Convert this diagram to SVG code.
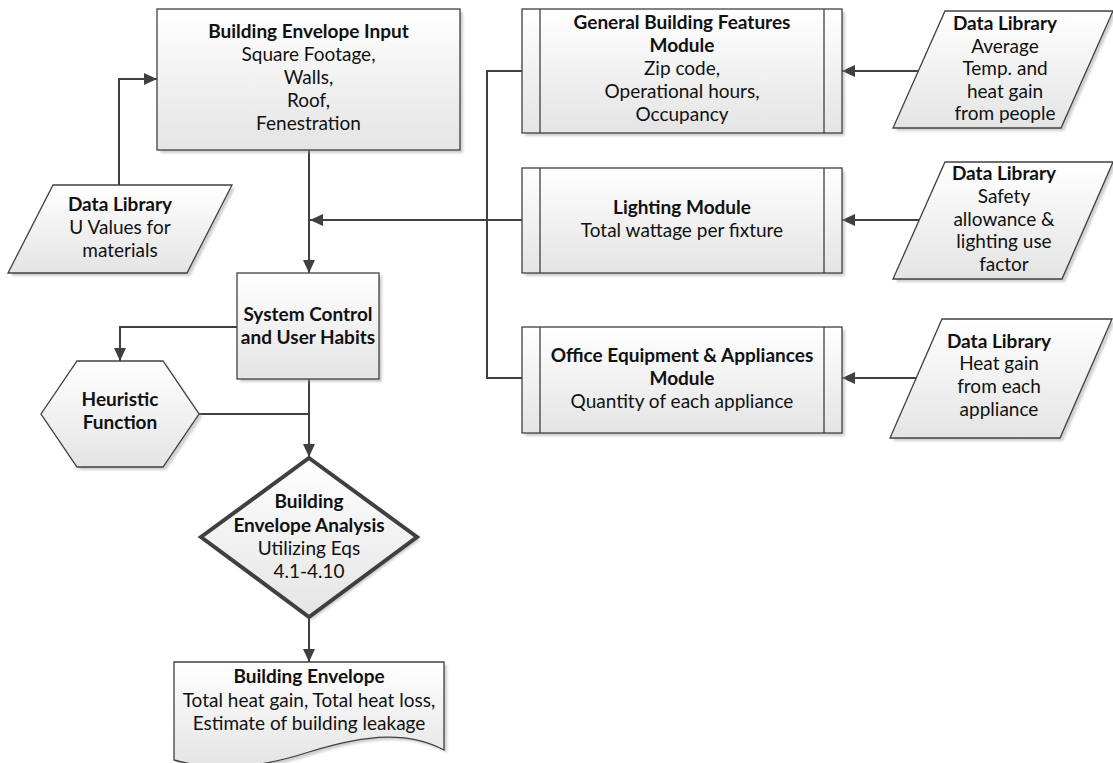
<svg xmlns="http://www.w3.org/2000/svg" width="1113" height="763" viewBox="0 0 1113 763">
<defs>
<linearGradient id="g" x1="0" y1="0" x2="0" y2="1">
<stop offset="0" stop-color="#ffffff"/>
<stop offset="1" stop-color="#e4e4e4"/>
</linearGradient>
<filter id="sh" x="-10%" y="-10%" width="130%" height="130%">
<feGaussianBlur stdDeviation="1.2"/>
</filter>
<marker id="arr" markerUnits="userSpaceOnUse" markerWidth="13" markerHeight="13" viewBox="0 0 13 13" refX="13" refY="6.5" orient="auto">
<path d="M0,0.5 L13,6.5 L0,12.5 z" fill="#404040"/>
</marker>
</defs>
<style>
.sh{fill:#a0a0a0;opacity:0.5;filter:url(#sh)}
.box{fill:url(#g);stroke:#404040;stroke-width:1.3}
.thick{fill:url(#g);stroke:#404040;stroke-width:4;stroke-linejoin:miter}
.div{stroke:#404040;stroke-width:1.3;fill:none}
.con{fill:none;stroke:#404040;stroke-width:2}
text{font-family:Lato,"Liberation Sans",sans-serif;font-size:19px;fill:#111;text-anchor:middle}
.b{font-weight:bold}
</style>

<g id="connectors">
<path class="con" d="M119,185 V79 H157" marker-end="url(#arr)"/>
<path class="con" d="M309,150 V273" marker-end="url(#arr)"/>
<path class="con" d="M522,220 H310" marker-end="url(#arr)"/>
<path class="con" d="M522,71 H487 V378 H522"/>
<path class="con" d="M237,327 H120 V361" marker-end="url(#arr)"/>
<path class="con" d="M309,379 V457" marker-end="url(#arr)"/>
<path class="con" d="M199,414 H309"/>
<path class="con" d="M309,619 V662" marker-end="url(#arr)"/>
<path class="con" d="M918,71 H842" marker-end="url(#arr)"/>
<path class="con" d="M919,220 H842" marker-end="url(#arr)"/>
<path class="con" d="M916,378 H842" marker-end="url(#arr)"/>
</g>

<g id="building-envelope-input">
<rect class="sh" x="160" y="12" width="303" height="141"/>
<rect class="box" x="157" y="9" width="303" height="141"/>
<text x="308.5" y="38" class="b">Building Envelope Input</text>
<text x="308.5" y="61">Square Footage,</text>
<text x="308.5" y="84">Walls,</text>
<text x="308.5" y="107">Roof,</text>
<text x="308.5" y="130">Fenestration</text>
</g>

<g id="data-library-u">
<polygon class="sh" points="56,188 235,188 190,276 11,276"/>
<polygon class="box" points="53,185 232,185 187,273 8,273"/>
<text x="120" y="211" class="b">Data Library</text>
<text x="120" y="234">U Values for</text>
<text x="120" y="257">materials</text>
</g>

<g id="general-module">
<rect class="sh" x="525" y="12" width="320" height="124"/>
<rect class="box" x="522" y="9" width="320" height="124"/>
<path class="div" d="M540,9 V133 M824,9 V133"/>
<text x="682" y="29" class="b">General Building Features</text>
<text x="682" y="52" class="b">Module</text>
<text x="682" y="75">Zip code,</text>
<text x="682" y="98">Operational hours,</text>
<text x="682" y="121">Occupancy</text>
</g>

<g id="lighting-module">
<rect class="sh" x="525" y="171" width="320" height="105"/>
<rect class="box" x="522" y="168" width="320" height="105"/>
<path class="div" d="M540,168 V273 M824,168 V273"/>
<text x="682" y="214" class="b">Lighting Module</text>
<text x="682" y="237">Total wattage per fixture</text>
</g>

<g id="office-module">
<rect class="sh" x="525" y="330" width="320" height="106"/>
<rect class="box" x="522" y="327" width="320" height="106"/>
<path class="div" d="M540,327 V433 M824,327 V433"/>
<text x="682" y="362" class="b">Office Equipment &amp; Appliances</text>
<text x="682" y="385" class="b">Module</text>
<text x="682" y="408">Quantity of each appliance</text>
</g>

<g id="data-library-temp">
<polygon class="sh" points="948,14 1116,14 1064,131 896,131"/>
<polygon class="box" points="945,11 1113,11 1061,128 893,128"/>
<text x="1005" y="30" class="b">Data Library</text>
<text x="1005" y="53">Average</text>
<text x="1005" y="75">Temp. and</text>
<text x="1005" y="98">heat gain</text>
<text x="1005" y="120">from people</text>
</g>

<g id="data-library-lighting">
<polygon class="sh" points="948,165 1116,165 1065,282 896,282"/>
<polygon class="box" points="945,162 1113,162 1062,279 893,279"/>
<text x="1004" y="180" class="b">Data Library</text>
<text x="1004" y="203">Safety</text>
<text x="1004" y="226">allowance &amp;</text>
<text x="1004" y="248">lighting use</text>
<text x="1004" y="271">factor</text>
</g>

<g id="data-library-appliance">
<polygon class="sh" points="945,322 1115,322 1063,441 893,441"/>
<polygon class="box" points="942,319 1112,319 1060,438 890,438"/>
<text x="999" y="348" class="b">Data Library</text>
<text x="999" y="370">Heat gain</text>
<text x="999" y="393">from each</text>
<text x="999" y="416">appliance</text>
</g>

<g id="system-control">
<rect class="sh" x="240" y="276" width="142" height="106"/>
<rect class="box" x="237" y="273" width="142" height="106"/>
<text x="308" y="321" class="b">System Control</text>
<text x="308" y="344" class="b">and User Habits</text>
</g>

<g id="heuristic-function">
<polygon class="sh" points="80,364 166,364 202,417 166,470 80,470 44,417"/>
<polygon class="box" points="77,361 163,361 199,414 163,467 77,467 41,414"/>
<text x="120" y="406" class="b">Heuristic</text>
<text x="120" y="429" class="b">Function</text>
</g>

<g id="envelope-analysis">
<polygon class="sh" points="312,461 420,540 312,620 204,540"/>
<polygon class="thick" points="309,458 417,537 309,617 201,537"/>
<text x="309" y="508" class="b">Building</text>
<text x="309" y="532" class="b">Envelope Analysis</text>
<text x="309" y="555">Utilizing Eqs</text>
<text x="309" y="578">4.1-4.10</text>
</g>

<g id="building-envelope-output">
<path class="sh" d="M177,665 H447 V753 C413,735 373,736 312,755 C253,774 213,773 177,763 Z"/>
<path class="box" d="M174,662 H444 V750 C410,732 370,733 309,752 C250,771 210,770 174,760 Z"/>
<text x="309" y="683" class="b">Building Envelope</text>
<text x="309" y="707">Total heat gain, Total heat loss,</text>
<text x="309" y="730">Estimate of building leakage</text>
</g>
</svg>
